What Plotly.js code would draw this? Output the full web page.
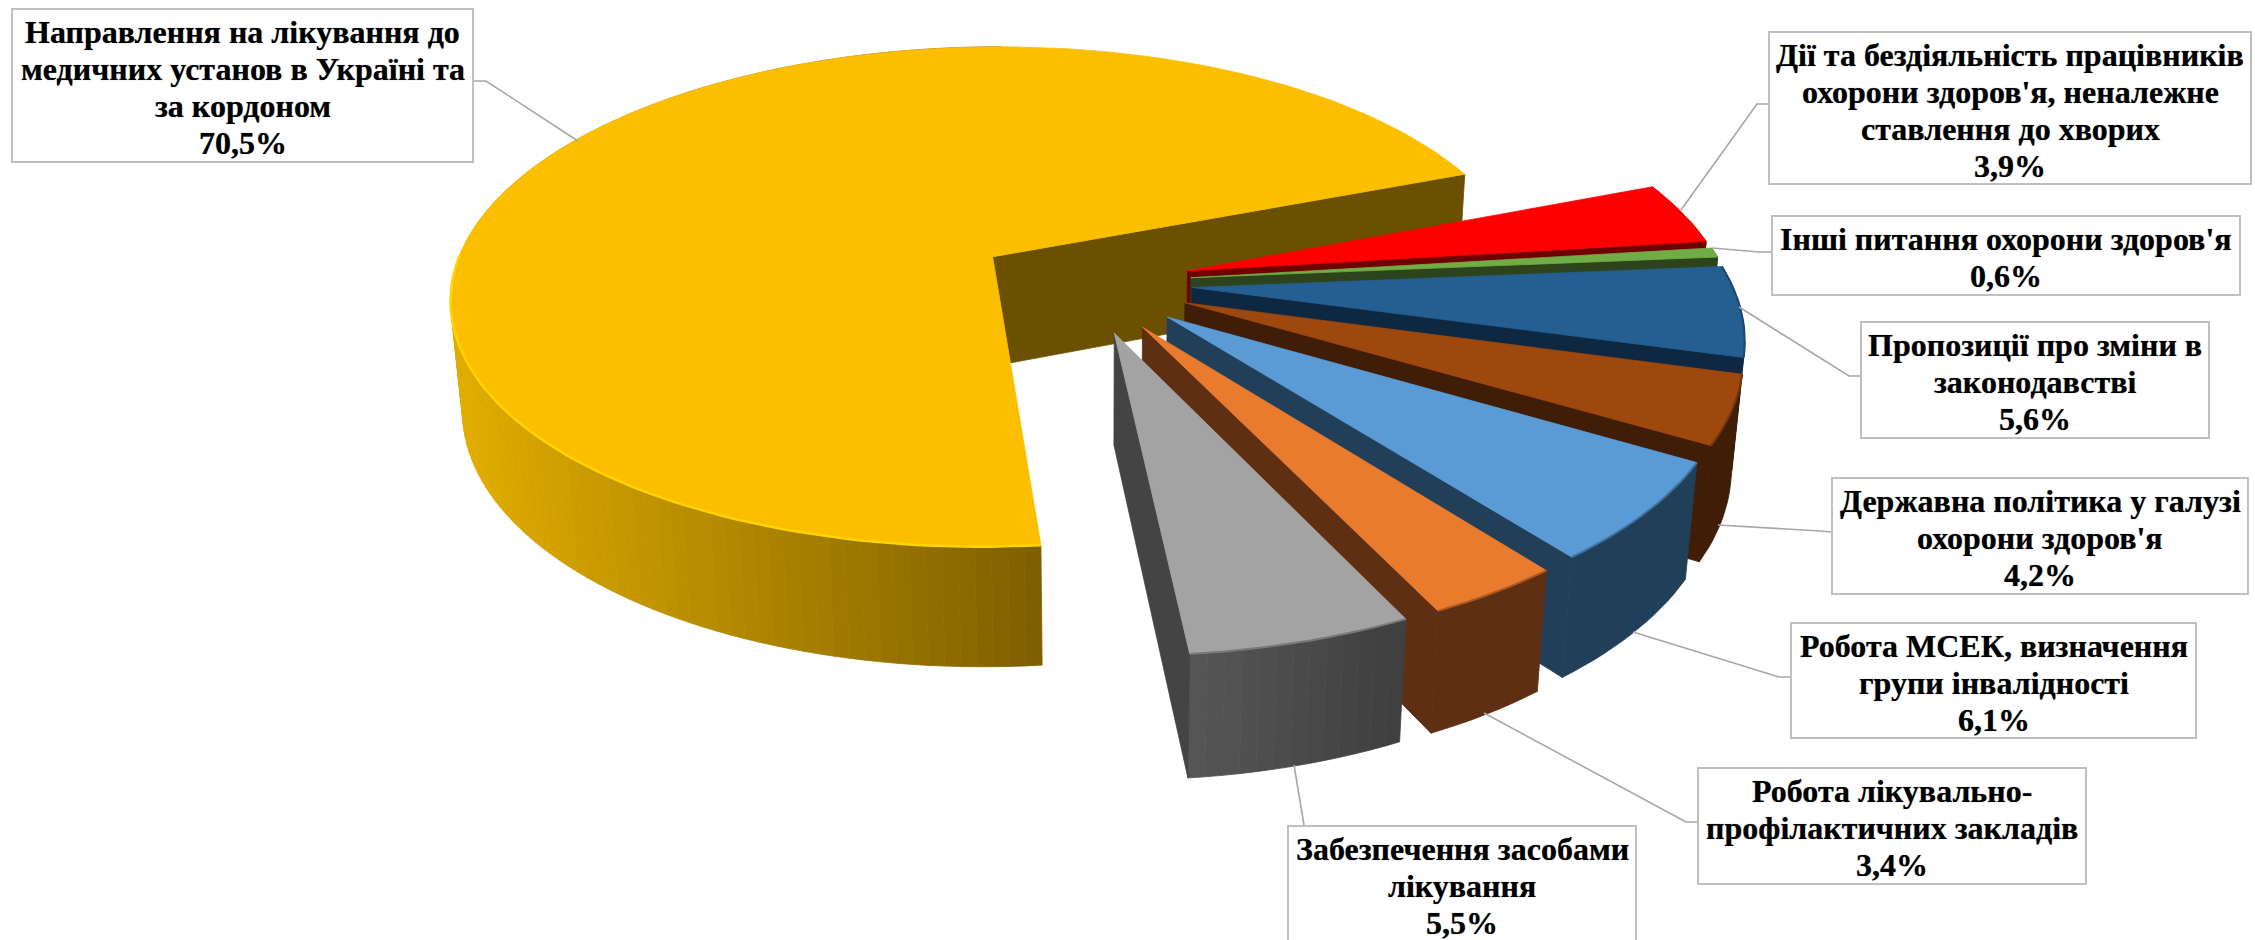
<!DOCTYPE html>
<html><head><meta charset="utf-8">
<script src="https://cdn.plot.ly/plotly-3.0.1.min.js"></script>
<style>html,body{margin:0;padding:0;background:#fff;overflow:hidden}</style>
</head><body><div id="chart" style="width:2255px;height:940px"></div>
<script>
// ---- data ----
const categories = [
  "Направлення на лікування до<br>медичних установ в Україні та<br>за кордоном",
  "Дії та бездіяльність працівників<br>охорони здоров'я, неналежне<br>ставлення до хворих",
  "Інші питання охорони здоров'я",
  "Пропозиції про зміни в<br>законодавстві",
  "Державна політика у галузі<br>охорони здоров'я",
  "Робота МСЕК, визначення<br>групи інвалідності",
  "Робота лікувально-<br>профілактичних закладів",
  "Забезпечення засобами<br>лікування"
];
const values = [70.5, 3.9, 0.6, 5.6, 4.2, 6.1, 3.4, 5.5];
const valueLabels = ["70,5%","3,9%","0,6%","5,6%","4,2%","6,1%","3,4%","5,5%"];
const topColors  = ["#FBBF00","#FF0000","#70AD47","#255E91","#9E480E","#5B9BD5","#E97B2F","#A3A3A3"];
const wallColors = ["#6A5000","#6F0000","#2C431C","#0E2841","#3F1D06","#223F59","#5F2F13","#444444"];

// ---- label boxes: left, top, right, bottom ----
const labelBoxes = [
  [11,8,474,163],[1768,31,2252,185],[1771,215,2241,296],[1860,321,2210,439],
  [1831,477,2249,595],[1790,622,2197,739],[1697,767,2087,885],[1287,825,1637,943]
];
// ---- leader lines ----
const leaderX = [[474,486,578],[1768,1757,1681],[1771,1759,1712],[1860,1849,1739],
                 [1831,1820,1718],[1790,1779,1633],[1697,1686,1484],[1304,1294]];
const leaderY = [[81,81,141],[104,104,210],[252,252,248],[376,376,307],
                 [532,531,525],[677,677,632],[822,822,713],[825,765]];

// ---- pie geometry ----
const startDeg = -5.2, pull = 0.2, origin = [0.169, 0.105];
const rad = d => d * Math.PI / 180;
const dir = d => [-Math.sin(rad(d)), Math.cos(rad(d))];
function project(X, Y) {
  const w = 1 - 0.16 * Y + 0.0025 * X;
  return [(993 + 535 * X - 166.5 * Y) / w, (257 + 202.5 * Y) / w];
}
function drop(p) {
  const t = 109 + 0.038 * (p[1] - 257);
  return [p[0] + (1100 - p[0]) * t / 6000, p[1] + t];
}
function hex(c){ return [1,3,5].map(i => parseInt(c.substr(i,2),16)); }
function mix(a,b,t){
  const A = hex(a), B = hex(b);
  return "rgb(" + A.map((v,i) => Math.round(v + (B[i]-v)*t)).join(",") + ")";
}
const clamp = t => Math.min(1, Math.max(0, t));
const traces = [];
function poly(pts, color) {
  traces.push({type:"scatter", mode:"lines", x:pts.map(p=>p[0]), y:pts.map(p=>p[1]),
    fill:"toself", fillcolor:color, line:{color:color, width:0.8}, hoverinfo:"skip", showlegend:false});
}
function line(xs, ys, color, width) {
  traces.push({type:"scatter", mode:"lines", x:xs, y:ys, line:{color:color, width:width},
    hoverinfo:"skip", showlegend:false});
}

const total = values.reduce((a,b)=>a+b, 0);
let acc = startDeg;
values.forEach((v, i) => {
  const span = v / total * 360, a0 = acc, a1 = acc + span;
  acc = a1;
  const mid = dir((a0 + a1) / 2);
  const cx = origin[0] + pull * mid[0], cy = origin[1] + pull * mid[1];
  const apex = project(cx, cy);
  const on = d => { const u = dir(d); return project(cx + u[0], cy + u[1]); };
  const n = Math.max(4, Math.round(span / 1.5));
  const arc = [];
  for (let k = 0; k <= n; k++) arc.push(on(a0 + span * k / n));
  const end = arc[n];
  // outer wall
  if (i === 0 || i === 7) {
    for (let k = 0; k < n; k++) {
      if (i === 0 && a0 + span * k / n > 180) break;
      const p = arc[k], q = arc[k+1];
      const c = i === 0 ? mix("#E0AC00", "#7F6000", clamp((p[0] - 465) / 575))
                        : mix("#585858", "#404040", clamp((p[0] - 1185) / 212));
      poly([p, q, drop(q), drop(p), p], c);
    }
  } else {
    poly(arc.concat(arc.slice().reverse().map(drop), [arc[0]]), wallColors[i]);
  }
  // radial wall on the later edge
  poly([apex, end, drop(end), drop(apex), apex], wallColors[i]);
  // top surface
  poly([apex].concat(arc, [apex]), topColors[i]);
  // soft rim along the outer edge
  if (i === 0) {
    const edge = arc.filter((p, k) => (a0 + span * k / n) < 92);
    line(edge.map(p=>p[0]), edge.map(p=>p[1]), "#FFD400", 2.5);
  } else if (i >= 3) {
    line(arc.map(p=>p[0]), arc.map(p=>p[1]), mix(topColors[i], wallColors[i], 0.45), 2);
  }
});

leaderX.forEach((xs, i) => line(xs, leaderY[i], "#A6A6A6", 1.6));

const lineStep = 37, textNudge = 2;
const annotations = [];
labelBoxes.forEach((b, i) => {
  annotations.push({
    xref:"x", yref:"y", x:b[0], y:b[1], xanchor:"left", yanchor:"top",
    width:b[2]-b[0]-4, height:b[3]-b[1]-4, borderpad:0, borderwidth:2,
    bordercolor:"#BFBFBF", bgcolor:"#FFFFFF", showarrow:false, text:" "
  });
});
labelBoxes.forEach((b, i) => {
  const rows = categories[i].split("<br>").concat(valueLabels[i]);
  rows.forEach((row, k) => annotations.push({
    xref:"x", yref:"y", x:(b[0]+b[2])/2, xanchor:"center", yanchor:"middle",
    y:(b[1]+b[3])/2 + textNudge + (k - (rows.length-1)/2) * lineStep,
    showarrow:false, borderpad:0,
    font:{family:"Liberation Serif", size:32, color:"#000", weight:"bold", shadow:"0 0 1px rgba(0,0,0,0.55)"},
    text:row
  }));
});

Plotly.newPlot("chart", traces, {
  width:2255, height:940, margin:{l:0,r:0,t:0,b:0}, showlegend:false,
  paper_bgcolor:"#fff", plot_bgcolor:"#fff", hovermode:false,
  xaxis:{range:[0,2255], visible:false, fixedrange:true},
  yaxis:{range:[940,0], visible:false, fixedrange:true},
  annotations:annotations
}, {displayModeBar:false, staticPlot:true});
</script></body></html>
